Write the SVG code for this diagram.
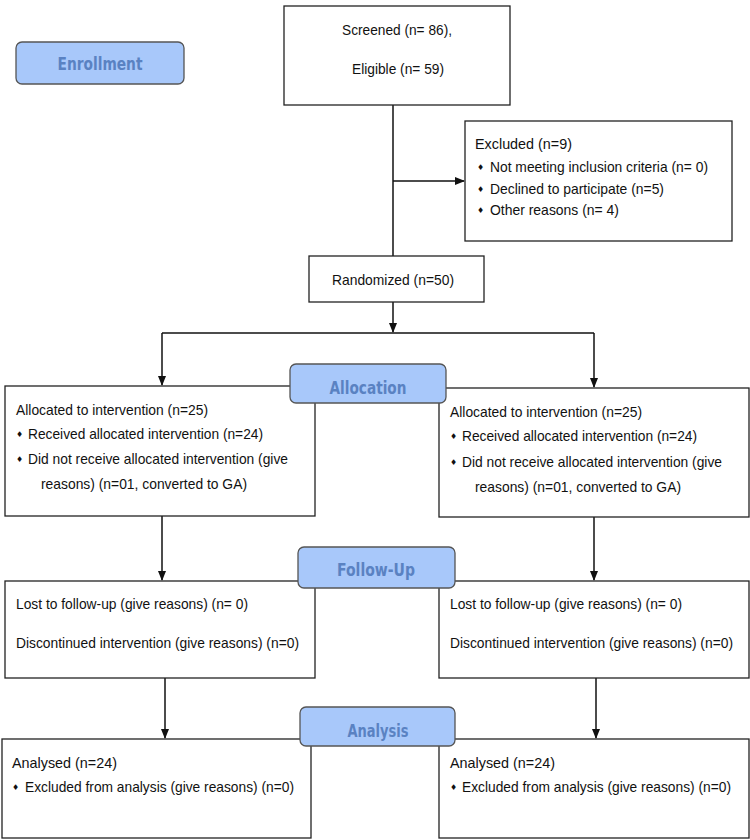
<svg xmlns="http://www.w3.org/2000/svg" width="750" height="840" viewBox="0 0 750 840">
<style>
.box{fill:#fff;stroke:#222;stroke-width:1.3}
.lbl{fill:#a8c8fa;stroke:#555;stroke-width:1.3}
.lt{font-family:"DejaVu Sans",sans-serif;font-weight:bold;font-size:18px;fill:#5a82c2;text-anchor:middle}
.t{font-family:"Liberation Sans",Arial,sans-serif;font-size:15px;fill:#111}
.b{font-family:"DejaVu Sans",sans-serif;font-size:8px;fill:#111}
.c{stroke:#111;stroke-width:1.5;fill:none}
</style>
<defs>
<marker id="ah" markerWidth="10" markerHeight="10" refX="9" refY="5" orient="auto" markerUnits="userSpaceOnUse">
<path d="M0,1 L10,5 L0,9 z" fill="#111"/>
</marker>
</defs>
<rect width="750" height="840" fill="#fff"/>
<g id="connectors">
<path class="c" d="M393,105 V256"/>
<path class="c" d="M393,181 H464" marker-end="url(#ah)"/>
<path class="c" d="M393,302 V332" marker-end="url(#ah)"/>
<path class="c" d="M162,333 H594"/>
<path class="c" d="M162,333 V385" marker-end="url(#ah)"/>
<path class="c" d="M594,333 V387" marker-end="url(#ah)"/>
<path class="c" d="M162,516 V580" marker-end="url(#ah)"/>
<path class="c" d="M594,517 V580" marker-end="url(#ah)"/>
<path class="c" d="M165,678 V738" marker-end="url(#ah)"/>
<path class="c" d="M596,678 V738" marker-end="url(#ah)"/>
</g>
<g id="enrollment">
<rect class="lbl" x="16" y="42" width="168" height="42" rx="6"/>
<text class="lt" x="100" y="70" textLength="85" lengthAdjust="spacingAndGlyphs">Enrollment</text>
</g>
<g id="screened">
<rect class="box" x="284" y="6" width="226" height="99"/>
<text class="t" x="342" y="35" textLength="110" lengthAdjust="spacingAndGlyphs">Screened (n= 86),</text>
<text class="t" x="352" y="74" textLength="92" lengthAdjust="spacingAndGlyphs">Eligible (n= 59)</text>
</g>
<g id="excluded">
<rect class="box" x="465" y="121" width="267" height="120"/>
<text class="t" x="475" y="149" textLength="97" lengthAdjust="spacingAndGlyphs">Excluded  (n=9)</text>
<text class="b" x="477" y="170">♦</text>
<text class="t" x="490" y="172" textLength="218" lengthAdjust="spacingAndGlyphs">Not meeting inclusion criteria (n= 0)</text>
<text class="b" x="477" y="192">♦</text>
<text class="t" x="490" y="194" textLength="174" lengthAdjust="spacingAndGlyphs">Declined to participate (n=5)</text>
<text class="b" x="477" y="213">♦</text>
<text class="t" x="490" y="215" textLength="129" lengthAdjust="spacingAndGlyphs">Other reasons (n= 4)</text>
</g>
<g id="randomized">
<rect class="box" x="309" y="256" width="175" height="46"/>
<text class="t" x="332" y="285" textLength="122" lengthAdjust="spacingAndGlyphs">Randomized (n=50)</text>
</g>
<g id="alloc-left">
<rect class="box" x="5" y="386" width="310" height="130"/>
<text class="t" x="16" y="415" textLength="192" lengthAdjust="spacingAndGlyphs">Allocated to intervention (n=25)</text>
<text class="b" x="16" y="437">♦</text>
<text class="t" x="28" y="439" textLength="235" lengthAdjust="spacingAndGlyphs">Received allocated intervention (n=24)</text>
<text class="b" x="16" y="462">♦</text>
<text class="t" x="28" y="464" textLength="260" lengthAdjust="spacingAndGlyphs">Did not receive allocated intervention (give</text>
<text class="t" x="41" y="489" textLength="206" lengthAdjust="spacingAndGlyphs">reasons) (n=01, converted to GA)</text>
</g>
<g id="alloc-right">
<rect class="box" x="439" y="388" width="310" height="129"/>
<text class="t" x="450" y="417" textLength="192" lengthAdjust="spacingAndGlyphs">Allocated to intervention (n=25)</text>
<text class="b" x="450" y="439">♦</text>
<text class="t" x="462" y="441" textLength="235" lengthAdjust="spacingAndGlyphs">Received allocated intervention (n=24)</text>
<text class="b" x="450" y="465">♦</text>
<text class="t" x="462" y="467" textLength="260" lengthAdjust="spacingAndGlyphs">Did not receive allocated intervention (give</text>
<text class="t" x="475" y="492" textLength="206" lengthAdjust="spacingAndGlyphs">reasons) (n=01, converted to GA)</text>
</g>
<g id="allocation">
<rect class="lbl" x="290" y="364" width="156" height="39" rx="6"/>
<text class="lt" x="368" y="394" textLength="77" lengthAdjust="spacingAndGlyphs">Allocation</text>
</g>
<g id="follow-left">
<rect class="box" x="5" y="581" width="310" height="97"/>
<text class="t" x="16" y="609" textLength="232" lengthAdjust="spacingAndGlyphs">Lost to follow-up (give reasons) (n= 0)</text>
<text class="t" x="16" y="648" textLength="283" lengthAdjust="spacingAndGlyphs">Discontinued intervention (give reasons) (n=0)</text>
</g>
<g id="follow-right">
<rect class="box" x="439" y="581" width="310" height="97"/>
<text class="t" x="450" y="609" textLength="232" lengthAdjust="spacingAndGlyphs">Lost to follow-up (give reasons) (n= 0)</text>
<text class="t" x="450" y="648" textLength="283" lengthAdjust="spacingAndGlyphs">Discontinued intervention (give reasons) (n=0)</text>
</g>
<g id="followup">
<rect class="lbl" x="298" y="547" width="157" height="41" rx="6"/>
<text class="lt" x="376" y="576" textLength="78" lengthAdjust="spacingAndGlyphs">Follow-Up</text>
</g>
<g id="analysis-left">
<rect class="box" x="2" y="739" width="309" height="99"/>
<text class="t" x="12" y="768" textLength="105" lengthAdjust="spacingAndGlyphs">Analysed  (n=24)</text>
<text class="b" x="12" y="790">♦</text>
<text class="t" x="25" y="792" textLength="269" lengthAdjust="spacingAndGlyphs">Excluded from analysis (give reasons) (n=0)</text>
</g>
<g id="analysis-right">
<rect class="box" x="439" y="739" width="310" height="99"/>
<text class="t" x="450" y="768" textLength="105" lengthAdjust="spacingAndGlyphs">Analysed  (n=24)</text>
<text class="b" x="450" y="790">♦</text>
<text class="t" x="462" y="792" textLength="269" lengthAdjust="spacingAndGlyphs">Excluded from analysis (give reasons) (n=0)</text>
</g>
<g id="analysis">
<rect class="lbl" x="300" y="707" width="155" height="39" rx="6"/>
<text class="lt" x="378" y="737" textLength="61" lengthAdjust="spacingAndGlyphs">Analysis</text>
</g>
</svg>
